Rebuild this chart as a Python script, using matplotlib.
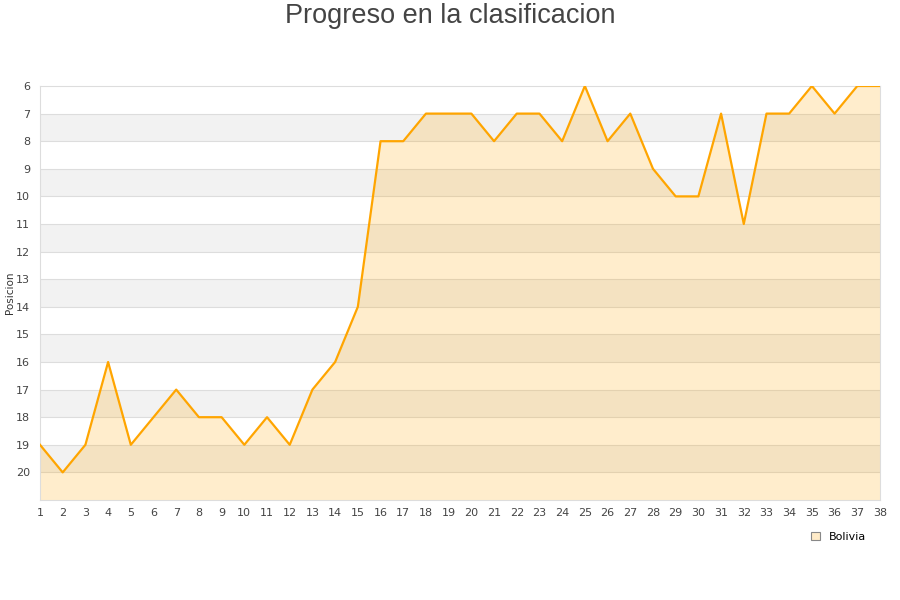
import matplotlib
matplotlib.use('Agg')
import matplotlib.pyplot as plt
from matplotlib.patches import Patch

# jornadas y posicion de Bolivia
jornadas = list(range(1, 39))
posicion = [19, 20, 19, 16, 19, 18, 17, 18, 18, 19,
            18, 19, 17, 16, 14, 8, 8, 7, 7, 7,
            8, 7, 7, 8, 6, 8, 7, 9, 10, 10,
            7, 11, 7, 7, 6, 7, 6, 6]
y_ticks = list(range(6, 21))

fig = plt.figure(figsize=(9, 6), dpi=100)
ax = fig.add_axes([40 / 900, 1 - 500 / 600, 840 / 900, 414 / 600])

# bandas alternas de fondo
for y0 in range(7, 21, 2):
    ax.axhspan(y0, y0 + 1, color='#f2f2f2', zorder=0, lw=0)
for y in range(7, 21):
    ax.axhline(y, color='#dddddd', lw=0.8, zorder=1)

ax.fill_between(jornadas, posicion, 21, color='#ffa500', alpha=0.2, lw=0, zorder=2)
ax.plot(jornadas, posicion, color='#ffa500', lw=1.6, zorder=3)

ax.set_xlim(1, 38)
ax.set_ylim(21, 6)
ax.set_xticks(jornadas)
ax.set_yticks(y_ticks)
ax.tick_params(length=0, labelsize=8, colors='#444444', pad=6)
ax.tick_params(axis='y', pad=7)
for s in ax.spines.values():
    s.set_color('#dddddd')
ax.set_ylabel('Posicion', fontsize=7.5, color='#333333')
ax.yaxis.set_label_coords(-25 / 840, 0.5)

fig.text(0.5, 1 - 16 / 600, 'Progreso en la clasificacion', ha='center', va='center',
         fontsize=19.5, color='#444444', family='Liberation Sans')

leg = fig.legend(handles=[Patch(facecolor='#ffebc8', edgecolor='#888888', lw=0.8, label='Bolivia')],
                 loc='center', bbox_to_anchor=(839 / 900, 1 - 537 / 600), frameon=False,
                 fontsize=8, handlelength=0.8, handleheight=0.8, handletextpad=0.8)

fig.savefig('out.png', dpi=100)
